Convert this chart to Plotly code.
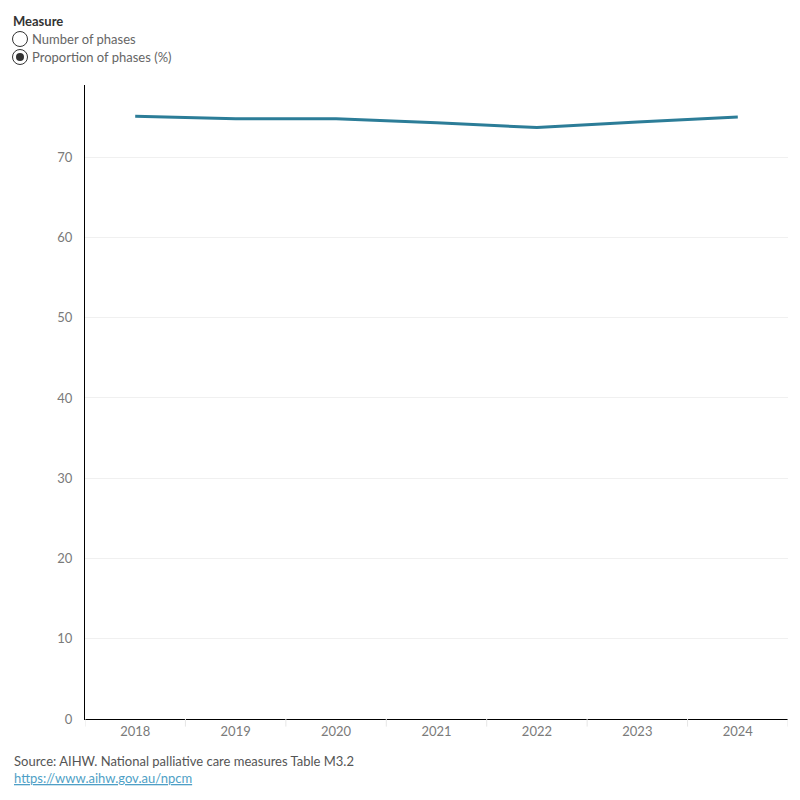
import plotly.graph_objects as go

years = ["2018", "2019", "2020", "2021", "2022", "2023", "2024"]
proportion = [75.1, 74.8, 74.8, 74.3, 73.7, 74.4, 75.0]
y_ticks = [0, 10, 20, 30, 40, 50, 60, 70]

font = "Lato"
fig = go.Figure()
fig.add_trace(go.Scatter(
    x=list(range(len(years))), y=proportion, mode="lines",
    line=dict(color="#2c7d98", width=3), hoverinfo="skip", showlegend=False))

fig.update_layout(
    width=800, height=800,
    margin=dict(l=85, r=12, t=85, b=81),
    paper_bgcolor="white", plot_bgcolor="white",
    font=dict(family=font, size=13, color="#7a7a7a"),
    xaxis=dict(range=[-0.5, 6.5], tickmode="array",
               tickvals=list(range(len(years))), ticktext=years,
               showgrid=False, zeroline=False, showline=True,
               linecolor="black", linewidth=1, ticks="", fixedrange=True),
    yaxis=dict(range=[0, 79], tickmode="array", tickvals=y_ticks,
               showgrid=True, gridcolor="#f0f0f0", gridwidth=1,
               zeroline=False, showline=True, linecolor="black", linewidth=1,
               ticks="", ticklabelstandoff=9, fixedrange=True),
)

# boundary tick marks below x-axis
for i in range(len(years) + 1):
    fig.add_shape(type="line", xref="x", yref="paper",
                  x0=i - 0.5, x1=i - 0.5, y0=0, y1=-0.012,
                  line=dict(color="#e6e6e6", width=1))

W = 800 - 85 - 12
H = 800 - 85 - 81


def px(x):
    return (x - 85) / W


def py(y):
    return (800 - 81 - y) / H


# Legend (radio buttons)
fig.add_annotation(xref="paper", yref="paper", x=px(11), y=py(21),
                   xanchor="left", yanchor="middle", showarrow=False,
                   text="<b>Measure</b>", font=dict(size=13, color="#333333", family=font))
opts = ["Number of phases", "Proportion of phases (%)"]
for k, t in enumerate(opts):
    yc = 39 + 18 * k
    fig.add_shape(type="circle", xref="paper", yref="paper",
                  x0=px(12.5), x1=px(27.5), y0=py(yc + 7.5), y1=py(yc - 7.5),
                  line=dict(color="#333333", width=1), fillcolor="white")
    if k == 1:
        fig.add_shape(type="circle", xref="paper", yref="paper",
                      x0=px(16), x1=px(24), y0=py(yc + 4), y1=py(yc - 4),
                      line=dict(color="#333333", width=0), fillcolor="#333333")
    fig.add_annotation(xref="paper", yref="paper", x=px(30), y=py(yc),
                       xanchor="left", yanchor="middle", showarrow=False,
                       text=t, font=dict(size=13, color="#666666", family=font))

# Source
fig.add_annotation(xref="paper", yref="paper", x=px(12), y=py(761),
                   xanchor="left", yanchor="middle", showarrow=False,
                   text="Source: AIHW. National palliative care measures Table M3.2",
                   font=dict(size=13, color="#555555", family=font))
fig.add_annotation(xref="paper", yref="paper", x=px(12), y=py(777.5),
                   xanchor="left", yanchor="middle", showarrow=False,
                   text="<u>https://www.aihw.gov.au/npcm</u>",
                   font=dict(size=13, color="#4f9fc6", family=font))

fig.write_html("out.html")
